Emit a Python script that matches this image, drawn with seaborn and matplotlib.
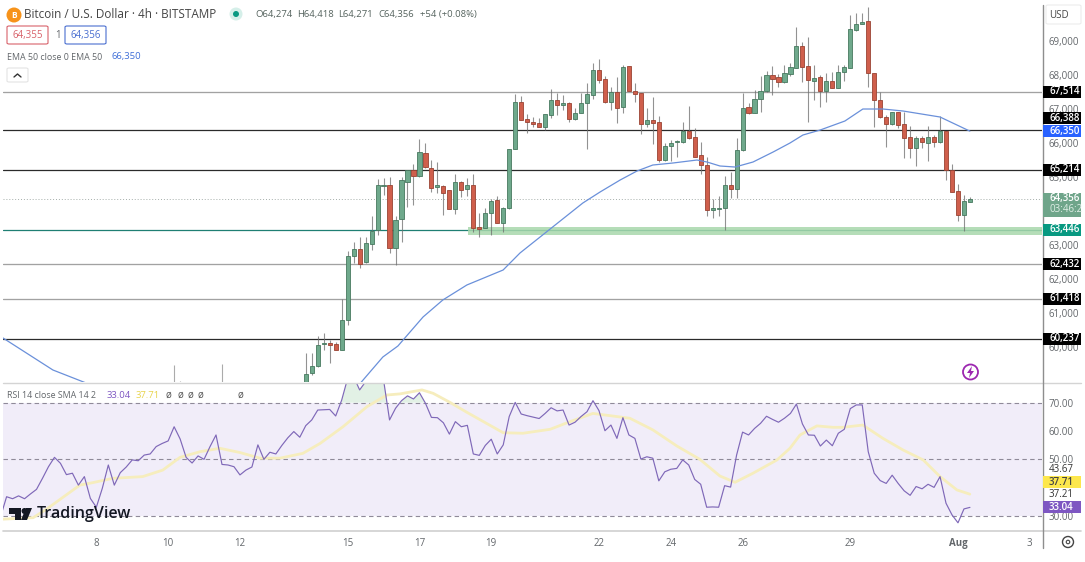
import numpy as np
import pandas as pd
import matplotlib
matplotlib.use('Agg')
import matplotlib.pyplot as plt
import matplotlib.patches as mpatches
from matplotlib.lines import Line2D
import seaborn as sns

# 4h candles, last bar is 1 Aug 08:00
open_ = [58900, 59230, 59430, 60100, 60120, 60080, 59910, 60800, 62690, 62870, 62500, 63040, 63430, 64730,
         64770, 62920, 63760, 64860, 65200, 65040, 65710, 65260, 64720, 64730, 64610, 64070, 64840, 64660,
         64760, 63520, 63510, 63950, 64320, 63660, 64080, 65830, 67200, 66700, 66620, 66580, 66480,
         66830, 67260, 67130, 67180, 66710, 66890, 67170, 67420, 68140, 67870, 67220, 67490, 67070,
         68260, 67540, 67470, 66570, 66670, 66610, 65500, 65920, 66040, 66040, 66360, 66170, 65640,
         65340, 64040, 64070, 64080, 64760, 64660, 65780, 67050, 66890, 67290, 67540, 67990, 67930,
         67780, 68030, 68220, 68850, 68270, 67830, 67930, 67540, 67820, 67620, 68100, 68220, 69330,
         69500, 69590, 68060, 67270, 66760, 66560, 66910, 66550, 66170, 65860, 66150, 66010, 66170,
         66030, 66350, 65200, 64590, 63890, 64274]
high = [59820, 59820, 60310, 60400, 60210, 60160, 61410, 62810, 63100, 63230, 63230, 63860, 64930, 64960,
        64990, 63860, 64990, 65200, 65380, 66110, 66010, 65500, 65430, 64770, 64610, 65080, 64890, 64960,
        65090, 63930, 64080, 64350, 64440, 64130, 65830, 67440, 67380, 66840, 66760, 66730, 66840,
        67580, 67460, 67410, 67220, 67020, 67480, 67760, 68360, 68470, 67970, 67640, 67950, 68290,
        68270, 67760, 67480, 67020, 67340, 66780, 65990, 66090, 66090, 66630, 67100, 66430, 66040,
        65580, 64350, 64440, 65030, 65160, 66140, 67460, 67170, 67560, 67970, 68130, 68270, 68030,
        68290, 68360, 69400, 68980, 69110, 68300, 68000, 68050, 68100, 68300, 68280, 69770, 69830,
        69830, 70010, 68070, 67510, 66830, 66920, 66920, 66920, 66500, 66210, 66210, 66500, 66240,
        66780, 66360, 65380, 64800, 64470, 64418]
low = [58800, 59180, 59420, 59920, 59520, 59900, 59900, 60650, 62460, 62320, 62460, 62860, 63300, 64470,
       62760, 62410, 63100, 64130, 64170, 65010, 65260, 64570, 64520, 63880, 64050, 63900, 64420, 64440,
       63390, 63250, 63490, 63300, 63640, 63390, 64070, 65820, 66680, 66290, 66480, 66460, 66380,
       66730, 66820, 66970, 66630, 66680, 66870, 65820, 67290, 67760, 67170, 66970, 66580, 66870,
       67530, 67220, 66270, 66480, 65970, 65450, 65480, 65470, 65600, 66010, 66110, 65580, 65090,
       63860, 63790, 63860, 63430, 64370, 64370, 65760, 66850, 66870, 66900, 67510, 67410, 67660,
       67760, 67970, 68200, 67780, 66630, 67270, 67070, 67220, 67610, 67610, 67810, 68200, 69300,
       69490, 67640, 66460, 66730, 65870, 66530, 66430, 65550, 65550, 65310, 65850, 65480, 65890,
       66010, 64910, 64550, 63720, 63420, 64271]
close = [59210, 59450, 60050, 60120, 60060, 59910, 60790, 62670, 62880, 62450, 63050, 63410, 64760, 64770,
         62920, 63750, 64900, 65200, 65040, 65730, 65280, 64690, 64760, 64540, 64070, 64860, 64630, 64760,
         63510, 63460, 63930, 64300, 63650, 64080, 65830, 67220, 66690, 66610, 66570, 66480, 66840,
         67270, 67130, 67170, 66710, 66870, 67170, 67430, 68140, 67860, 67220, 67500, 67040, 68230,
         67540, 67440, 66570, 66670, 66600, 65500, 65920, 66010, 66060, 66360, 66160, 65600, 65360,
         64040, 64080, 64080, 64770, 64640, 65790, 67020, 66870, 67290, 67540, 67990, 67890, 67780,
         68050, 68230, 68850, 68250, 67860, 67900, 67540, 67820, 67630, 68100, 68250, 69340, 69500,
         69570, 68070, 67270, 66760, 66560, 66910, 66540, 66160, 65840, 66150, 66030, 66170, 66030,
         66350, 65200, 64570, 63890, 64300, 64356]

# only the wicks of these older bars reach into the visible range
early_days = [10.167, 10.333, 11.5]
early_high = [59470, 58990, 59510]
early_low = [58500, 58500, 58500]

ema_days = [5.40, 6.79, 7.68, 15.29, 15.43, 15.98, 16.40, 17.10, 17.65, 18.32, 19.33, 19.80, 20.64, 21.55,
            22.03, 22.59, 23.06, 23.50, 24.06, 24.73, 25.01, 25.37, 25.79, 26.29, 26.85, 27.32, 27.68,
            28.16, 28.85, 29.35, 29.91, 30.47, 31.50, 32.33]
ema_values = [60265, 59324, 58956, 58854, 59030, 59706, 60030, 60883, 61383, 61824, 62265, 62765, 63471,
              64235, 64559, 64912, 65177, 65353, 65412, 65500, 65441, 65324, 65294, 65441, 65735, 66000,
              66235, 66382, 66647, 67000, 67000, 66941, 66765, 66350]

rsi_values = [29.8, 36.8, 36.1, 37.1, 36.1, 37.8, 39.4, 43.3, 47.4, 50.7, 48.6, 44.6, 45.1, 40.9, 43.9, 36.2,
              33.1, 39.8, 48.0, 40.9, 45.3, 47.3, 49.8, 49.5, 51.5, 51.9, 54.5, 55.6, 56.5, 61.5, 57.2, 50.7,
              48.7, 51.2, 50.0, 54.5, 58.6, 48.2, 48.0, 47.4, 44.5, 46.2, 47.3, 55.1, 50.0, 52.5, 51.9, 54.9,
              57.6, 59.8, 57.8, 61.9, 63.9, 67.4, 67.5, 67.6, 65.3, 70.9, 78.6, 79.2, 74.5, 77.4, 79.2, 79.8,
              78.0, 63.9, 68.0,
              70.7, 72.4, 71.3, 73.5, 69.8, 64.8, 64.7, 62.9, 58.9, 63.3, 61.5, 62.0, 51.9, 51.4, 54.9, 57.1,
              51.9, 55.1, 65.1, 70.1, 66.0, 65.4, 64.9, 64.4, 66.2, 68.2, 67.1, 67.4, 62.1, 63.1, 65.1, 66.8,
              70.7, 67.2, 60.1, 62.1, 57.4, 64.7, 58.6, 57.4, 50.1, 50.9, 50.4, 42.4, 45.6, 46.5, 46.8, 49.8,
              48.0, 42.9, 41.2, 33.1, 33.2, 33.1, 40.7, 40.2, 51.5, 59.6, 58.6, 60.9, 62.7, 65.2, 64.1, 63.1,
              64.5, 66.2, 69.5,
              62.5, 58.6, 58.5, 54.7, 56.8, 54.8, 59.2, 60.6, 67.9, 69.2, 69.2, 52.7, 45.1, 42.5, 41.5, 44.4,
              41.5, 38.9, 37.3, 40.4, 39.6, 41.2, 40.1, 43.9, 34.5, 30.4, 27.6, 32.5, 33.04]

sma_days = [5.41, 6.24, 6.61, 7.54, 7.91, 8.46, 9.29, 9.85, 10.33, 10.89, 11.44, 12.0, 12.56, 13.11, 13.75,
            14.23, 14.87, 15.54, 16.09, 16.46, 17.07, 17.38, 17.85, 18.32, 19.33, 19.88, 20.64, 21.11, 21.83,
            22.86, 23.50, 24.17, 24.81, 25.37, 25.79, 26.29, 26.96, 27.32, 27.60, 28.07, 28.52, 28.80, 29.35,
            29.91, 30.47, 31.03, 31.50, 31.97, 32.33]
sma_values = [28.9, 29.4, 32.4, 40.9, 41.8, 43.3, 43.9, 46.2, 50.7, 52.7, 53.9, 52.4, 50.4, 50.4, 52.1, 55.6,
              61.5, 68.6, 72.7, 73.1, 74.5, 73.3, 70.1, 66.6, 59.4, 59.2, 60.6, 62.9, 66.2, 64.5, 60.4, 54.7,
              50.0, 44.1, 41.9, 45.1, 49.8, 53.9, 58.6, 61.8, 61.3, 61.3, 62.1, 57.4, 53.3, 49.8, 43.9, 39.2,
              37.71]

price_ticks = [60000, 61000, 62000, 63000, 65000, 66000, 67000, 68000, 69000]
levels_grey = [67514, 62432, 61418]
levels_dark = [66388, 65214, 60237]
support = 63446
support_band = (63287, 63525)
last_price = 64356
ema_last = 66350
rsi_ticks = [30, 50, 60, 70]
rsi_extra = [37.21, 43.67]
rsi_last = 33.04
sma_last = 37.71
day_ticks = [8, 10, 12, 15, 17, 19, 22, 24, 26, 29, 32, 34]
day_labels = ['8', '10', '12', '15', '17', '19', '22', '24', '26', '29', 'Aug', '3']

W, H = 1085, 562
GREEN, GREEN_EDGE = '#6fa98c', '#47795f'
RED, RED_EDGE = '#cf5f4c', '#9a4333'
GREY_TEXT = '#63676b'


def fx(x):
    return x / W


def fy(y):
    return 1 - y / H


sns.set_theme(style='white')
plt.rcParams['font.family'] = 'Open Sans'
fig = plt.figure(figsize=(W / 100, H / 100), dpi=100)
ax = fig.add_axes([fx(3), fy(382), (1042 - 3) / W, (382 - 3) / H])
ax_rsi = fig.add_axes([fx(3), fy(530), (1042 - 3) / W, (530 - 383) / H])
fig_text = dict(transform=fig.transFigure, va='center', ha='left')

bar_dates = pd.date_range(end='2024-08-01 08:00', periods=len(rsi_values), freq='4h')
bar_days = (bar_dates - pd.Timestamp('2024-07-01')) / pd.Timedelta(days=1) + 1
days = bar_days[-len(close):]
o, h, l, c = map(np.array, (open_, high, low, close))
up = c >= o

# candles
ax.vlines(early_days, early_low, early_high, color='#888888', lw=0.8, alpha=0.7, zorder=2)
ax.vlines(days, l, h, color='#6e6e6e', lw=0.8, alpha=0.75, zorder=2)
ax.bar(days[up], (c - o)[up], bottom=o[up], width=0.115, color=GREEN, edgecolor=GREEN_EDGE, lw=0.6, zorder=3)
ax.bar(days[~up], (o - c)[~up], bottom=c[~up], width=0.115, color=RED, edgecolor=RED_EDGE, lw=0.6, zorder=3)

# levels
for level in levels_grey:
    ax.axhline(level, color='#a2a2a2', lw=0.95, zorder=1)
for level in levels_dark:
    ax.axhline(level, color='#2a2a2a', lw=0.9, zorder=1)
ax.axhline(support, color='#1f7f73', lw=0.9, zorder=1)
ax.axhline(last_price, color='#a5aeaa', lw=0.7, ls=(0, (1, 2)), zorder=1)
ax.fill_between([18.35, 34.34], support_band[0], support_band[1], color='#a8d8ac', alpha=0.85, lw=0, zorder=1)
sns.lineplot(x=ema_days[:3], y=ema_values[:3], ax=ax, color='#6a90da', lw=0.9, zorder=4)
sns.lineplot(x=ema_days[3:], y=ema_values[3:], ax=ax, color='#6a90da', lw=0.9, zorder=4)

ax.set_xlim(5.40, 34.34)
ax.set_ylim(58971, 70118)
ax.set_xticks([])
ax.yaxis.tick_right()
ax.set_yticks(price_ticks)
ax.set_yticklabels([f'{t:,}' for t in price_ticks], fontsize=7, color=GREY_TEXT)
ax.tick_params(axis='y', length=0, pad=4.5)
ax.set_xlabel('')
ax.set_ylabel('')

# rsi pane
rsi = np.array(rsi_values)
ax_rsi.fill_between([5.40, 34.34], 30, 70, color='#f1edf9', lw=0, zorder=0)
ax_rsi.fill_between(bar_days, 70, rsi, where=rsi > 70, color='#cfe8d5', alpha=0.6, lw=0, zorder=1, interpolate=True)
for level in [30, 50, 70]:
    ax_rsi.axhline(level, color='#8f8a99', lw=0.8, ls=(0, (4, 3)), zorder=1)
sns.lineplot(x=sma_days, y=sma_values, ax=ax_rsi, color='#f6edbd', lw=2.0, zorder=2)
sns.lineplot(x=bar_days, y=rsi_values, ax=ax_rsi, color='#7f68b8', lw=0.85, zorder=3)
ax_rsi.set_xlim(5.40, 34.34)
ax_rsi.set_ylim(25.06, 76.94)
ax_rsi.yaxis.tick_right()
ax_rsi.set_yticks(rsi_ticks)
ax_rsi.set_yticklabels([f'{t:.2f}' for t in rsi_ticks], fontsize=7, color=GREY_TEXT)
ax_rsi.tick_params(axis='y', length=0, pad=4.5)
ax_rsi.set_xticks(day_ticks)
ax_rsi.set_xticklabels(day_labels, fontsize=7, color=GREY_TEXT)
ax_rsi.get_xticklabels()[10].set_fontweight('bold')
ax_rsi.tick_params(axis='x', length=0, pad=5.5)
ax_rsi.set_xlabel('')
ax_rsi.set_ylabel('')
for a in (ax, ax_rsi):
    for spine in a.spines.values():
        spine.set_visible(False)
    a.patch.set_alpha(0)

# frame lines
fig.add_artist(Line2D([fx(3), fx(1081)], [fy(382.5), fy(382.5)], color='#d4d4d4', lw=1))
fig.add_artist(Line2D([fx(3), fx(1081)], [fy(530.5), fy(530.5)], color='#d0d0d0', lw=1.2))
fig.add_artist(Line2D([fx(1042.5), fx(1042.5)], [fy(5), fy(548)], color='#8e8e8e', lw=1))


def badge(axis, value, text, face, color='white', extra=None, shift=0):
    # fixed size label on the price scale, placed through the axis scale
    # shift moves it clear of a neighbouring label, as the price scale does
    y_px = H - axis.transData.transform((0, value))[1] + shift
    top, bottom = y_px - 6, y_px + 6
    if extra:
        bottom = y_px + 18
    fig.add_artist(mpatches.Rectangle((fx(1043), fy(bottom)), 38 / W, (bottom - top) / H, transform=fig.transFigure,
                                      facecolor=face, edgecolor='none', zorder=2))
    fig.text(fx(1049), fy(y_px), text, color=color, fontsize=7, fontweight='semibold', zorder=3, **fig_text)
    if extra:
        fig.text(fx(1049), fy(y_px + 11), extra, color='#dfeee6', fontsize=7, zorder=3, **fig_text)


badge(ax, 67514, '67,514', '#000000')
badge(ax, 66388, '66,388', '#000000', shift=-11.5)
badge(ax, 65214, '65,214', '#000000')
badge(ax, 62432, '62,432', '#000000')
badge(ax, 61418, '61,418', '#000000')
badge(ax, 60237, '60,237', '#000000')
badge(ax, ema_last, f'{ema_last:,}', '#2962ff')
badge(ax, last_price, f'{last_price:,}', '#6fa58a', extra='03:46:2')
badge(ax, support, f'{support:,}', '#089981')
badge(ax_rsi, sma_last, f'{sma_last:.2f}', '#fde74c', color='#444444', shift=-12)
badge(ax_rsi, rsi_last, f'{rsi_last:.2f}', '#7e57c2')
for value, shift in zip(rsi_extra, [-1, -8]):
    y_px = H - ax_rsi.transData.transform((0, value))[1] + shift
    fig.text(fx(1049), fy(y_px), f'{value:.2f}', color='#333333', fontsize=7, **fig_text)

# usd box and settings icon
fig.add_artist(mpatches.FancyBboxPatch((fx(1046), fy(24)), 35 / W, 19 / H, boxstyle='round,pad=0,rounding_size=0.002',
                                       transform=fig.transFigure, facecolor='white', edgecolor='#ececec', lw=0.8))
fig.text(fx(1049), fy(15), 'USD', color='#444444', fontsize=7, **fig_text)
fig.add_artist(mpatches.Ellipse((fx(1068), fy(542)), 11 / W, 11 / H, transform=fig.transFigure,
                                facecolor='white', edgecolor='#444444', lw=1))
fig.add_artist(mpatches.Ellipse((fx(1068), fy(542)), 3.5 / W, 3.5 / H, transform=fig.transFigure,
                                facecolor='white', edgecolor='#444444', lw=0.8))

# header
fig.add_artist(mpatches.Ellipse((fx(14), fy(15)), 15 / W, 15 / H, transform=fig.transFigure,
                                facecolor='#f7931a', edgecolor='none'))
fig.text(fx(14), fy(15), 'B', color='white', fontsize=6, fontweight='bold', ha='center', va='center',
         transform=fig.transFigure)
fig.text(fx(24), fy(15), 'Bitcoin / U.S. Dollar · 4h · BITSTAMP', color='#444444', fontsize=8.5, **fig_text)
fig.add_artist(mpatches.Ellipse((fx(236), fy(14)), 13 / W, 13 / H, transform=fig.transFigure,
                                facecolor='#d5efe9', edgecolor='none'))
fig.add_artist(mpatches.Ellipse((fx(236), fy(14)), 6 / W, 6 / H, transform=fig.transFigure,
                                facecolor='#089981', edgecolor='none'))
for x_px, txt in zip([255, 297, 338, 378, 420],
                     ['O64,274', 'H64,418', 'L64,271', 'C64,356', '+54 (+0.08%)']):
    fig.text(fx(x_px), fy(15), txt, color='#55635e', fontsize=6.8, **fig_text)

for x0, txt, col in [(7, '64,355', '#d8626b'), (65, '64,356', '#4a6fd0')]:
    fig.add_artist(mpatches.FancyBboxPatch((fx(x0), fy(44)), 41 / W, 18 / H,
                                           boxstyle='round,pad=0,rounding_size=0.002', transform=fig.transFigure,
                                           facecolor='white', edgecolor=col, lw=0.8))
    fig.text(fx(x0 + 20.5), fy(35.5), txt, color=col, fontsize=7, ha='center', va='center',
             transform=fig.transFigure)
fig.text(fx(55), fy(35.5), '1', color=GREY_TEXT, fontsize=7, **fig_text)
fig.text(fx(7), fy(57), 'EMA 50 close 0 EMA 50', color=GREY_TEXT, fontsize=6.4, **fig_text)
fig.text(fx(112), fy(57), f'{ema_last:,}', color='#3f6fd8', fontsize=6.8, **fig_text)
fig.add_artist(mpatches.FancyBboxPatch((fx(7), fy(82)), 21 / W, 14 / H, boxstyle='round,pad=0,rounding_size=0.002',
                                       transform=fig.transFigure, facecolor='white', edgecolor='#e4e4e4', lw=0.8))
fig.add_artist(Line2D([fx(14), fx(17.5), fx(21)], [fy(77), fy(74), fy(77)], color='#333333', lw=1))

# rsi legend
fig.text(fx(7), fy(395), 'RSI 14 close SMA 14 2', color=GREY_TEXT, fontsize=6.4, **fig_text)
fig.text(fx(107), fy(395), f'{rsi_last:.2f}', color='#7e57c2', fontsize=6.8, **fig_text)
fig.text(fx(136), fy(395), f'{sma_last:.2f}', color='#e8d44d', fontsize=6.8, **fig_text)
for x_px in [166, 177, 187, 198, 238]:
    fig.text(fx(x_px), fy(395), 'ø', color='#555555', fontsize=7, **fig_text)

# watermark
fig.add_artist(mpatches.Polygon([(fx(9), fy(508)), (fx(21), fy(508)), (fx(21), fy(520)), (fx(15), fy(520)),
                                 (fx(15), fy(514)), (fx(9), fy(514))], transform=fig.transFigure,
                                facecolor='#131722', edgecolor='none', zorder=5))
fig.add_artist(mpatches.Ellipse((fx(24.5), fy(511)), 6 / W, 6 / H, transform=fig.transFigure,
                                facecolor='#131722', edgecolor='none', zorder=5))
fig.add_artist(mpatches.Polygon([(fx(26), fy(508)), (fx(32), fy(508)), (fx(27), fy(520)), (fx(21), fy(520))],
                                transform=fig.transFigure, facecolor='#131722', edgecolor='none', zorder=5))
fig.text(fx(37), fy(514.5), 'TradingView', color='#131722', fontsize=11.5, fontweight='semibold', zorder=5, **fig_text)

# alert icon
fig.add_artist(mpatches.Ellipse((fx(970.5), fy(372)), 15 / W, 15 / H, transform=fig.transFigure,
                                facecolor='white', edgecolor='#9c27b0', lw=1.3))
fig.add_artist(mpatches.Polygon([(fx(972), fy(366)), (fx(967), fy(373)), (fx(970), fy(373)), (fx(969), fy(378)),
                                 (fx(974), fy(371)), (fx(971), fy(371))], transform=fig.transFigure,
                                facecolor='#9c27b0', edgecolor='none'))

fig.savefig('out.png', dpi=100)
